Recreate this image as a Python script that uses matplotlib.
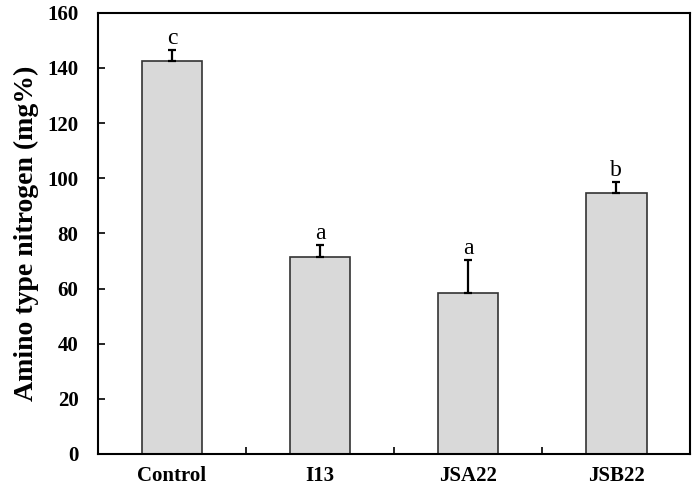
import numpy as np
import matplotlib.pyplot as plt

groups = ['Control', 'I13', 'JSA22', 'JSB22']
means = [142.5, 71.3, 58.5, 94.8]
errors = [4.0, 4.4, 12.0, 4.0]
letters = ['c', 'a', 'a', 'b']

plt.rcParams['font.family'] = ['Liberation Serif', 'DejaVu Serif']

fig = plt.figure(figsize=(7, 4.94), dpi=100)
ax = fig.add_axes([0.14, 0.081, 0.846, 0.893])

x = np.arange(len(groups))
ax.bar(x, means, width=0.41, color='#d9d9d9', edgecolor='#333333', linewidth=1.2, zorder=2)
ax.errorbar(x, means, yerr=[np.zeros(len(errors)), errors], fmt='none',
            ecolor='black', elinewidth=1.6, capsize=3, capthick=1.6, zorder=3)

for xi, m, e, lab in zip(x, means, errors, letters):
    ax.text(xi, m + e + 2.2, lab, ha='center', va='baseline', fontsize=17)

ax.set_xlim(-0.5, 3.5)
ax.set_ylim(0, 160)
ax.set_yticks(np.arange(0, 161, 20))
ax.set_xticks(x)
ax.set_xticklabels(groups, fontweight='bold', fontsize=15)
ax.set_xticks([0.5, 1.5, 2.5], minor=True)
ax.tick_params(axis='x', which='major', length=0, pad=9)
ax.tick_params(axis='x', which='minor', direction='in', length=5, width=1.2)
ax.tick_params(axis='y', direction='in', length=5, width=1.2, labelsize=15, pad=14)
for t in ax.get_yticklabels():
    t.set_fontweight('bold')

ax.set_ylabel('Amino type nitrogen (mg%)', fontsize=20, fontweight='bold', labelpad=6)

for s in ax.spines.values():
    s.set_linewidth(1.5)

fig.savefig('out.png', dpi=100)
